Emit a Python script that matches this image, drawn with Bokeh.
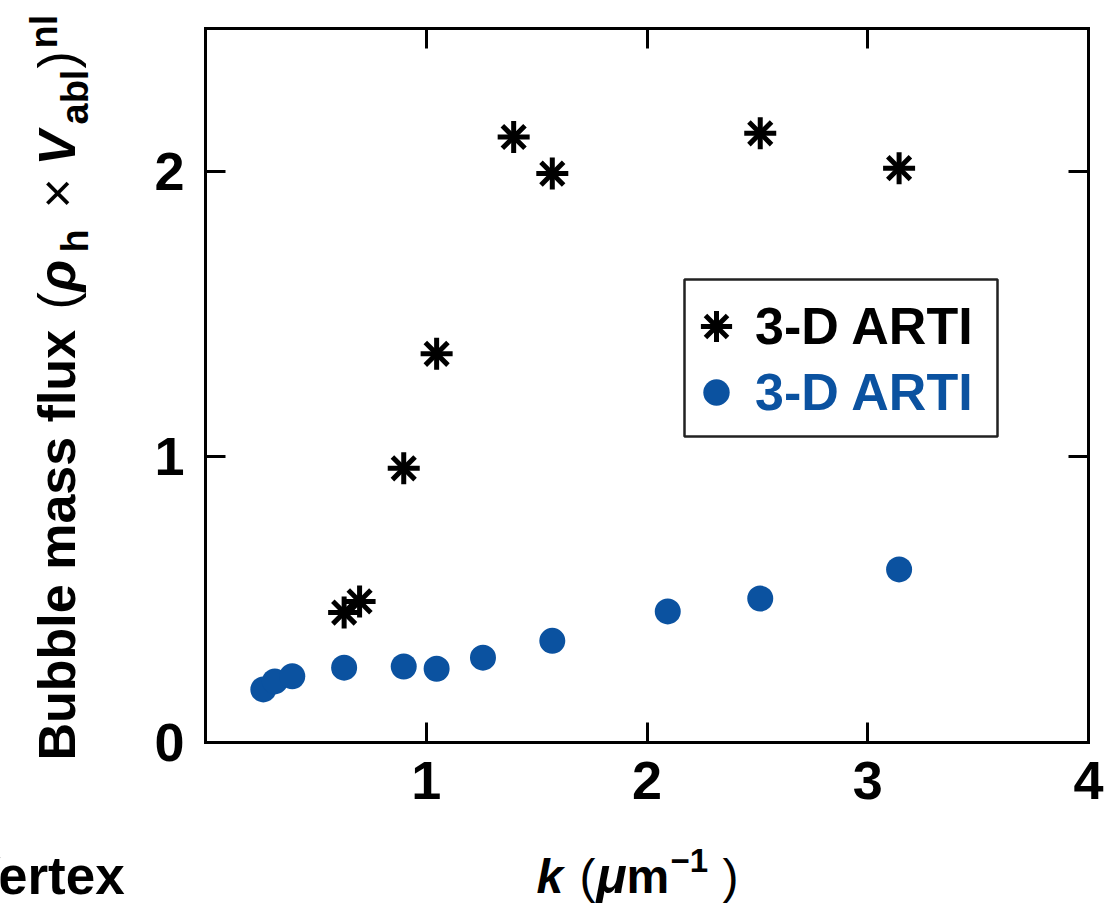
import math

from bokeh.plotting import figure
from bokeh.models import (Range1d, LinearAxis, FixedTicker, Label, Legend,
                          LegendItem, BoxAnnotation)
from bokeh.embed import file_html
from bokeh.resources import INLINE

# Wavenumber k (um^-1) and bubble mass flux, normalised by rho_h * V_abl
k_stars = [0.628, 0.698, 0.898, 1.047, 1.396, 1.571, 2.513, 3.142]
flux_stars = [0.455, 0.494, 0.960, 1.361, 2.120, 1.992, 2.133, 2.011]

k_dots = [0.262, 0.314, 0.393, 0.628, 0.898, 1.047, 1.257, 1.571, 2.094, 2.513, 3.142]
flux_dots = [0.186, 0.214, 0.232, 0.262, 0.266, 0.258, 0.297, 0.356, 0.459, 0.504, 0.606]

series_labels = ["3-D ARTI", "3-D ARTI"]
x_ticks = [1, 2, 3, 4]
y_ticks = [0, 1, 2]
x_lim = (0, 4)
y_lim = (0, 2.5)

FONT = "Liberation Sans"
BLUE = "#0b52a0"

# canvas size and the pixel box that holds the data area
W, H = 1120, 910
BOX_L, BOX_R, BOX_T, BOX_B = 205, 1088, 28, 742

# the plotting frame covers the whole canvas; ranges are widened so that
# the data box lands on the pixel box above, leaving room for titles
sx = (BOX_R - BOX_L) / (x_lim[1] - x_lim[0])
sy = (BOX_B - BOX_T) / (y_lim[1] - y_lim[0])
x_range = Range1d(x_lim[0] - BOX_L / sx, x_lim[1] + (W - BOX_R) / sx)
y_range = Range1d(y_lim[0] - (H - BOX_B) / sy, y_lim[1] + BOX_T / sy)

p = figure(width=W, height=H, output_backend="svg", toolbar_location=None,
           x_range=x_range, y_range=y_range,
           x_axis_location=None, y_axis_location=None, min_border=0,
           background_fill_color="white", border_fill_color="white")
p.outline_line_color = None
p.grid.visible = False


def make_axis(ticks, bounds, where, show_labels, standoff):
    ax = LinearAxis(fixed_location=where, bounds=bounds)
    ax.ticker = FixedTicker(ticks=ticks)
    ax.axis_line_width = 3
    ax.axis_line_color = "black"
    ax.axis_line_cap = "square"
    ax.major_tick_line_width = 3
    ax.major_tick_line_color = "black"
    ax.major_tick_in = 20
    ax.major_tick_out = 0
    ax.minor_tick_line_color = None
    ax.major_label_standoff = standoff
    ax.major_label_text_font = FONT
    ax.major_label_text_font_style = "bold"
    ax.major_label_text_color = "black"
    if show_labels:
        ax.major_label_text_font_size = "54px"
    else:
        ax.major_label_text_font_size = "8px"
        ax.major_label_overrides = {t: "" for t in ticks}
    return ax


p.add_layout(make_axis(x_ticks, x_lim, y_lim[0], True, 19), "below")
p.add_layout(make_axis(x_ticks, x_lim, y_lim[1], False, 0), "above")
p.add_layout(make_axis(y_ticks, y_lim, x_lim[0], True, 21), "left")
p.add_layout(make_axis(y_ticks, y_lim, x_lim[1], False, 0), "right")

# data markers: eight-armed stars and filled dots
r_cross = p.scatter(k_stars, flux_stars, marker="cross", size=32,
                    line_color="black", line_width=5)
r_x = p.scatter(k_stars, flux_stars, marker="x", size=32,
                line_color="black", line_width=5)
r_dot = p.scatter(k_dots, flux_dots, marker="circle", size=26,
                  fill_color=BLUE, line_color=None)


def canvas_xy(cx, cy):
    # pixel position measured from the top-left -> frame screen units
    return cx, H - cy


# labels are anchored on the middle of their em box; this moves a baseline
# position to that middle
MID = 0.35


def add_text(text, cx, cy, size, style, vertical=False, color="black"):
    if vertical:
        cx -= MID * size
        angle = math.pi / 2
    else:
        cy -= MID * size
        angle = 0.0
    fx, fy = canvas_xy(cx, cy)
    p.add_layout(Label(x=fx, y=fy, x_units="screen", y_units="screen",
                       text=text, angle=angle, text_font=FONT,
                       text_font_size=f"{size}px", text_font_style=style,
                       text_color=color, text_align="left",
                       text_baseline="middle"))


# vertical axis title, built from runs (text, start y, baseline x, size, style)
y_title = [
    ("Bubble mass flux", 760, 75, 52, "bold"),
    ("(", 309, 75, 52, "normal"),
    ("ρ", 291, 75, 52, "bold italic"),
    ("h", 252, 88, 38, "bold"),
    ("×", 208, 75, 52, "normal"),
    ("V", 165, 75, 52, "bold italic"),
    ("abl", 124, 88, 38, "bold"),
    (")", 68, 75, 52, "normal"),
    ("nl", 48, 57, 38, "bold"),
]
for text, ty, tx, size, style in y_title:
    add_text(text, tx, ty, size, style, vertical=True)

# horizontal axis title: (text, start x, baseline y, size, style)
x_title = [
    ("k", 536, 893, 48, "bold italic"),
    ("(", 579, 893, 48, "normal"),
    ("μ", 596, 893, 50, "bold italic"),
    ("m", 626, 893, 48, "bold"),
    ("−1", 670, 872, 33, "bold"),
    (")", 722, 893, 48, "normal"),
    ("Vertex", -35, 894, 53, "bold"),
]
for text, tx, ty, size, style in x_title:
    add_text(text, tx, ty, size, style)

# legend frame and its two entries
lx0, ly0 = canvas_xy(684, 279)
lx1, ly1 = canvas_xy(997, 436)
p.add_layout(BoxAnnotation(left=lx0, right=lx1, top=ly0, bottom=ly1,
                           left_units="screen", right_units="screen",
                           top_units="screen", bottom_units="screen",
                           fill_color="white", fill_alpha=1.0,
                           line_color="#222222", line_alpha=1.0,
                           line_width=2.5))

# (renderers, label, text colour, glyph box, glyph centre x, glyph centre y)
TEXT_X = 755
entries = [
    ([r_cross, r_x], series_labels[0], "black", 78, 716, 326),
    ([r_dot], series_labels[1], BLUE, 66, 716, 392),
]
for renderers, label, color, gbox, gx, gy in entries:
    half = gbox // 2
    lx, ly = canvas_xy(gx - half, gy + half)
    leg = Legend(items=[LegendItem(label=label, renderers=renderers)],
                 location=(lx, ly), glyph_width=gbox, glyph_height=gbox,
                 padding=0, margin=0, spacing=0,
                 label_standoff=int(max(0, TEXT_X - (gx + half))),
                 border_line_color=None, background_fill_alpha=0,
                 label_text_font=FONT, label_text_font_style="bold",
                 label_text_font_size="52px", label_text_color=color)
    p.add_layout(leg)

open("out.html", "w").write(file_html(p, INLINE))
